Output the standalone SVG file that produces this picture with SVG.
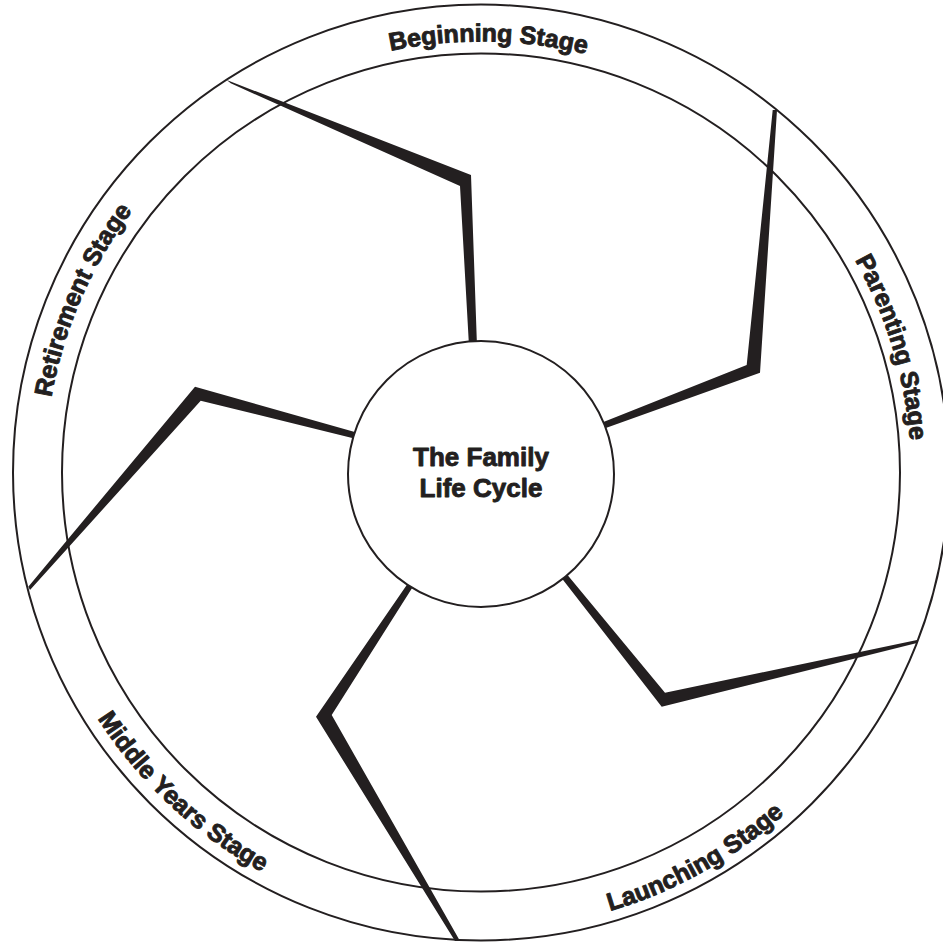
<svg xmlns="http://www.w3.org/2000/svg" width="943" height="945" viewBox="0 0 943 945">
  <style>
    .ring { fill: none; stroke: #231f20; stroke-width: 2; }
    .hub { fill: #ffffff; stroke: #231f20; stroke-width: 2; }
    .spoke { fill: #231f20; stroke: none; }
    .lbl { font-family: "Liberation Sans", Arial, sans-serif; font-weight: bold; font-size: 25px; fill: #231f20; stroke: #231f20; stroke-width: 0.9; stroke-linejoin: round; }
    .hubtxt { font-family: "Liberation Sans", Arial, sans-serif; font-weight: bold; font-size: 26px; fill: #231f20; stroke: #231f20; stroke-width: 0.9; stroke-linejoin: round; text-anchor: middle; }
  </style>
  <defs>
    <path id="pBeginning" d="M 44.1 465.4 A 437 437 0 0 1 917.9 480.6"/>
    <path id="pParenting" d="M 353.5 56.1 A 436 436 0 0 1 608.5 889.9"/>
    <path id="pRetirement" d="M 307.4 873.1 A 436 436 0 0 1 654.6 72.9"/>
    <path id="pLaunching" d="M 81.3 694.1 A 457 457 0 0 0 880.7 250.9"/>
    <path id="pMiddle" d="M 146.8 160.8 A 457 457 0 0 0 815.2 784.2"/>
  </defs>
  <rect x="0" y="0" width="943" height="945" fill="#ffffff"/>

  <g id="rings">
    <circle class="ring" cx="481" cy="472.5" r="468"/>
    <circle class="ring" cx="481" cy="472.5" r="419"/>
  </g>

  <g id="connectors">
    <polygon class="spoke" points="226.7,80 471,175 477,346 469,346 460,186 230.7,83.3"/>
    <polygon class="spoke" points="772.7,110 777,110 760,372.7 602.3,429.2 600.3,423.2 746.7,365"/>
    <polygon class="spoke" points="564.2,571 665,692.7 917,640 917,643 661.7,706.7 559.6,575.4"/>
    <polygon class="spoke" points="409.5,580.9 316,716.7 455,941 460,941 331.7,715 414.5,584.2"/>
    <polygon class="spoke" points="358.3,433 195,386.7 28.3,586.7 30,590 200.7,400.7 358.3,439.5"/>
  </g>

  <g id="center-node">
    <circle class="hub" cx="481" cy="474" r="133"/>
    <text class="hubtxt" x="481" y="466">The Family</text>
    <text class="hubtxt" x="481" y="497">Life Cycle</text>
  </g>

  <g id="stage-beginning">
    <text class="lbl"><textPath href="#pBeginning" startOffset="50%" text-anchor="middle">Beginning Stage</textPath></text>
  </g>
  <g id="stage-parenting">
    <text class="lbl"><textPath href="#pParenting" startOffset="50%" text-anchor="middle">Parenting Stage</textPath></text>
  </g>
  <g id="stage-launching">
    <text class="lbl"><textPath href="#pLaunching" startOffset="50%" text-anchor="middle">Launching Stage</textPath></text>
  </g>
  <g id="stage-middle-years">
    <text class="lbl"><textPath href="#pMiddle" startOffset="50%" text-anchor="middle">Middle Years Stage</textPath></text>
  </g>
  <g id="stage-retirement">
    <text class="lbl"><textPath href="#pRetirement" startOffset="50%" text-anchor="middle">Retirement Stage</textPath></text>
  </g>
</svg>
